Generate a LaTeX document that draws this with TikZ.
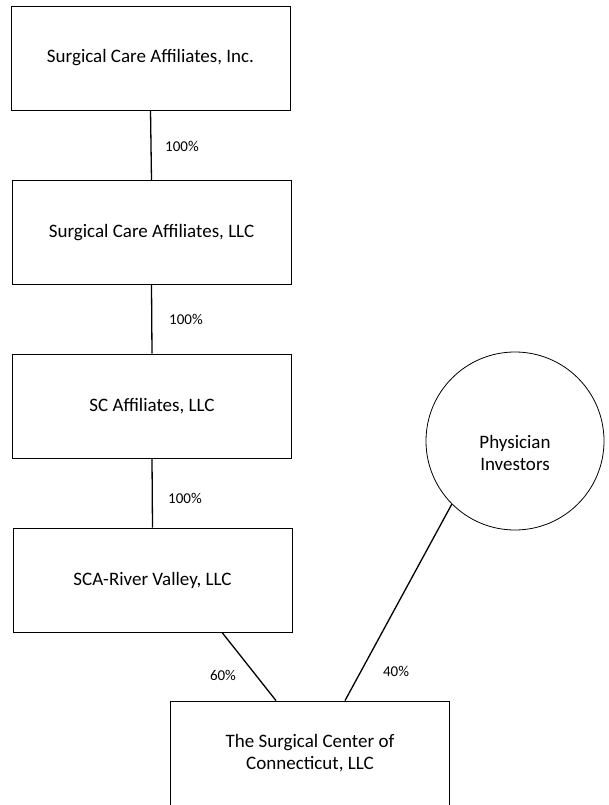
\documentclass[tikz,border=0pt]{standalone}
\usepackage{fontspec}
\setmainfont{Carlito}
\begin{document}
\begin{tikzpicture}[x=1pt,y=-1pt,
  ent/.style={draw=black, line width=0.8pt, rectangle, minimum width=279pt, minimum height=104pt, align=center, font=\fontsize{19}{22}\selectfont, inner sep=0pt},
  owner/.style={draw=black, line width=0.8pt, circle, minimum size=178pt, inner sep=0pt},
  conn/.style={draw=black, line width=1.3pt},
  pct/.style={font=\fontsize{15}{17}\selectfont, inner sep=0pt}]
\useasboundingbox (0,0) rectangle (609,805);
\node[ent] (b1) at (150.5,58) {Surgical Care Affiliates, Inc.};
\node[ent] (b2) at (151.5,232.5) {Surgical Care Affiliates, LLC};
\node[ent] (b3) at (152,406) {SC Affiliates, LLC};
\node[ent] (b4) at (152.5,580) {SCA-River Valley, LLC};
\node[ent] (b5) at (310,753) {The Surgical Center of\\Connecticut, LLC};
\node[owner] (pi) at (515,441) {};
\node[font=\fontsize{19}{22}\selectfont, align=center, inner sep=0pt] (pit) at (515,453) {Physician\\Investors};
\coordinate (c60a) at (222,632);
\coordinate (c60b) at (276,702);
\draw[conn] (b1.south) -- (b2.north);
\draw[conn] (b2.south) -- (b3.north);
\draw[conn] (b3.south) -- (b4.north);
\draw[conn] (b4.south -| c60a) -- (b5.north -| c60b);
\coordinate (c40b) at (345,702);
\draw[conn] (b5.north -| c40b) -- (pi.225);
\node[pct] (l1) at (182,146) {100\%};
\node[pct] (l2) at (186,319) {100\%};
\node[pct] (l3) at (185,498) {100\%};
\node[pct] (l4) at (223,675) {60\%};
\node[pct] (l5) at (396,671) {40\%};
\end{tikzpicture}
\end{document}
